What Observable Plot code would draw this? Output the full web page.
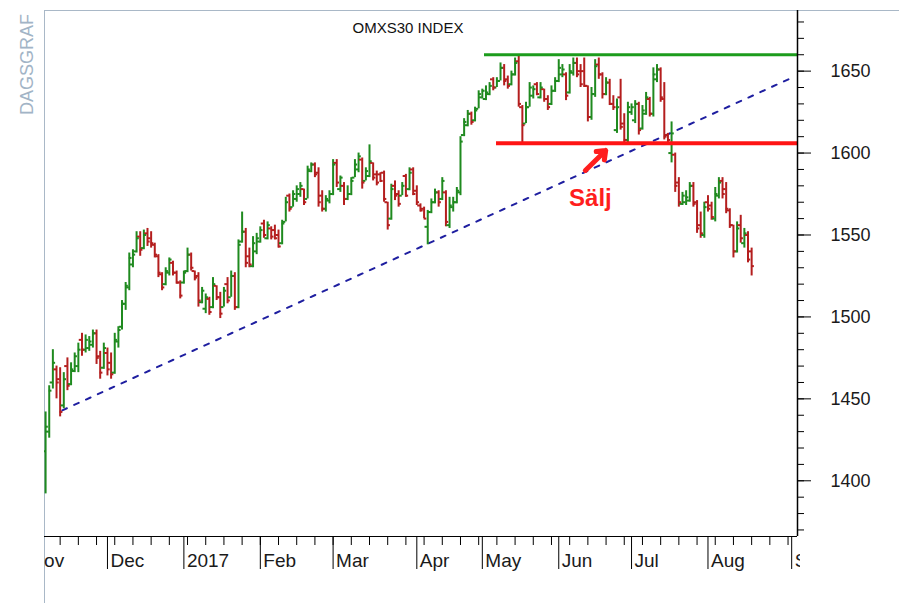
<!DOCTYPE html>
<html>
<head>
<meta charset="utf-8">
<script src="https://cdn.jsdelivr.net/npm/d3@7"></script>
<script src="https://cdn.jsdelivr.net/npm/@observablehq/plot@0.6"></script>
<style>
html,body{margin:0;padding:0;background:#fff;}
#wrap{position:relative;width:899px;height:603px;overflow:hidden;font-family:"Liberation Sans",Arial,sans-serif;}
#topline{position:absolute;left:44px;top:10px;width:855px;height:1px;background:#a9b8c7;}
#leftline{position:absolute;left:44px;top:10px;width:1px;height:593px;background:#a9b8c7;}
#side{position:absolute;left:18px;top:115px;transform-origin:0 0;transform:rotate(-90deg);font-size:18px;line-height:18px;color:#a2b4c6;white-space:nowrap;}
#chart{position:absolute;left:44px;top:0;}
</style>
</head>
<body>
<div id="wrap">
  <div id="leftline"></div>
  <div id="topline"></div>
  <div id="side">DAGSGRAF</div>
  <div id="chart"></div>
</div>
<script>
// ---- data: daily OHLC, trading-day index (0 = first trading day of Dec 2016) ----
const firstDay = -17;
const open = [
  1418,1430,1460,1468,1462,1446,1470,1459,1467,1470,
  1486,1480,1481,1483,1490,1476,1469,1478,1472,1466,
  1485,1494,1508,1518,1532,1540,1549,1542,1551,1548,
  1544,1537,1526,1520,1527,1533,1527,1521,1521,1528,
  1538,1528,1525,1509,1505,1511,1506,1519,1512,1506,
  1520,1512,1525,1506,1546,1552,1537,1531,1540,1546,
  1557,1548,1554,1553,1550,1545,1558,1574,1567,1572,
  1575,1578,1572,1589,1593,1588,1574,1566,1571,1575,
  1594,1578,1580,1572,1575,1585,1590,1596,1583,1586,
  1594,1587,1587,1588,1570,1560,1580,1575,1574,1586,
  1578,1590,1577,1568,1566,1555,1564,1570,1576,1572,
  1576,1556,1567,1570,1576,1611,1617,1624,1620,1627,
  1634,1633,1636,1645,1640,1644,1652,1645,1642,1648,
  1656,1628,1618,1628,1635,1642,1634,1639,1633,1630,
  1638,1644,1648,1648,1637,1649,1655,1650,1650,1641,
  1622,1636,1654,1648,1636,1643,1630,1614,1634,1618,
  1608,1625,1620,1630,1615,1624,1633,1624,1645,1651,
  1633,1611,1600,1599,1582,1569,1570,1571,1580,1570,
  1556,1550,1570,1568,1560,1574,1583,1578,1565,1556,
  1540,1556,1545,1550,1540
];
const high = [
  1442,1458,1480,1470,1469,1466,1475,1472,1478,1484,
  1490,1489,1488,1492,1492,1479,1484,1481,1478,1490,
  1494,1510,1521,1539,1541,1552,1552,1553,1554,1552,
  1545,1538,1527,1530,1536,1534,1528,1522,1528,1542,
  1539,1528,1527,1518,1514,1512,1524,1519,1515,1518,
  1524,1528,1527,1547,1564,1554,1542,1549,1551,1555,
  1559,1558,1555,1556,1553,1559,1573,1575,1577,1580,
  1582,1578,1592,1594,1594,1591,1577,1574,1577,1596,
  1596,1586,1582,1580,1585,1596,1600,1597,1591,1605,
  1594,1589,1588,1589,1570,1581,1583,1577,1582,1587,
  1591,1591,1580,1569,1567,1565,1572,1578,1577,1585,
  1577,1573,1573,1579,1610,1621,1626,1625,1628,1638,
  1639,1641,1643,1646,1646,1655,1654,1647,1650,1658,
  1660,1629,1631,1643,1641,1643,1643,1639,1635,1641,
  1646,1657,1654,1649,1654,1658,1658,1654,1658,1641,
  1640,1657,1658,1649,1646,1645,1635,1633,1645,1624,
  1631,1630,1632,1631,1629,1637,1634,1652,1654,1652,
  1643,1612,1619,1600,1585,1576,1577,1582,1582,1571,
  1564,1570,1574,1570,1579,1585,1585,1582,1566,1556,
  1558,1562,1554,1552,1542
];
const low = [
  1392,1426,1456,1450,1439,1444,1455,1458,1466,1466,
  1476,1478,1479,1481,1471,1462,1468,1464,1462,1465,
  1481,1492,1504,1516,1530,1539,1537,1541,1543,1542,
  1536,1524,1516,1519,1525,1525,1520,1511,1520,1527,
  1528,1522,1506,1508,1502,1501,1505,1510,1499,1506,
  1508,1512,1504,1505,1545,1530,1530,1530,1538,1545,
  1548,1547,1547,1547,1542,1544,1558,1564,1567,1570,
  1573,1568,1572,1588,1585,1567,1564,1564,1569,1574,
  1579,1576,1568,1571,1574,1585,1588,1578,1583,1585,
  1583,1580,1582,1570,1553,1559,1571,1567,1574,1573,
  1577,1574,1568,1564,1560,1544,1563,1569,1567,1571,
  1555,1554,1564,1569,1574,1610,1616,1617,1619,1627,
  1633,1632,1635,1638,1640,1644,1641,1639,1641,1647,
  1628,1606,1618,1628,1633,1635,1633,1631,1626,1629,
  1637,1643,1646,1632,1636,1647,1646,1640,1640,1619,
  1620,1634,1645,1633,1635,1629,1626,1612,1614,1605,
  1606,1623,1618,1611,1614,1623,1622,1622,1643,1631,
  1608,1606,1594,1576,1567,1568,1568,1570,1567,1551,
  1548,1548,1564,1559,1558,1572,1572,1563,1554,1536,
  1539,1545,1542,1533,1525
];
const close = [
  1433,1455,1472,1460,1442,1462,1458,1468,1476,1480,
  1480,1486,1485,1490,1475,1466,1481,1468,1465,1486,
  1492,1508,1519,1536,1538,1548,1541,1550,1546,1545,
  1538,1527,1518,1528,1535,1527,1521,1513,1527,1538,
  1530,1524,1510,1516,1512,1503,1520,1512,1502,1516,
  1510,1525,1506,1544,1552,1533,1532,1545,1548,1553,
  1550,1556,1549,1548,1543,1557,1570,1566,1575,1578,
  1580,1570,1590,1593,1587,1570,1566,1572,1575,1593,
  1582,1585,1572,1575,1583,1593,1598,1582,1589,1595,
  1585,1582,1583,1572,1556,1578,1574,1569,1580,1574,
  1588,1575,1570,1565,1560,1564,1570,1576,1570,1583,
  1558,1568,1570,1577,1607,1619,1624,1619,1626,1636,
  1638,1637,1641,1640,1644,1652,1644,1641,1648,1655,
  1630,1617,1628,1640,1639,1636,1640,1633,1628,1638,
  1644,1652,1651,1635,1650,1655,1648,1642,1641,1622,
  1636,1653,1648,1636,1643,1630,1628,1628,1616,1608,
  1628,1628,1630,1614,1626,1634,1624,1648,1651,1634,
  1610,1608,1612,1580,1570,1574,1573,1580,1569,1554,
  1551,1567,1566,1561,1575,1582,1575,1566,1556,1540,
  1554,1548,1551,1535,1531
];

// axis ticks / labels
const monthStarts = [-22, 0, 21, 42, 62, 85, 103, 124, 144, 165, 188];
const monthLabels = ["Nov", "Dec", "2017", "Feb", "Mar", "Apr", "May", "Jun", "Jul", "Aug", "Sep"];
const weekTicks = d3.range(-18, 190, 5);
const yMajor = [1400, 1450, 1500, 1550, 1600, 1650];
const yMinor = d3.range(1370, 1690, 10);
const xDomain = [-17.3, 189.6];
const yDomain = [1366, 1687];

// annotations
const title = "OMXS30 INDEX";
const resistance = [{value: 1660, from: 103.6}];
const support = [{value: 1606, from: 106.9}];
const trend = [{day: -12.4, value: 1443}, {day: 187.6, value: 1645.5}];
const signal = [{x1: 131.3, y1: 1589.4, x2: 136.9, y2: 1601.6}];
const signalLabel = [{day: 132.7, value: 1572.3, text: "Sälj"}];

const bars = open.map((o, k) => ({day: firstDay + k, open: o, high: high[k], low: low[k], close: close[k]}));
const GREEN = "#1f8a1f", RED = "#b41e1e";
const col = d => d.close >= d.open ? GREEN : RED;

const W = 855, MR = 102;
const chart = Plot.plot({
  width: W, height: 603,
  marginLeft: 0, marginRight: MR, marginTop: 10, marginBottom: 67,
  x: {type: "linear", domain: xDomain},
  y: {domain: yDomain},
  color: {type: "identity"},
  style: {fontFamily: "'Liberation Sans', Arial, sans-serif", background: "transparent", overflow: "hidden", color: "#1a1a1a"},
  marks: [
    Plot.line(trend, {x: "day", y: "value", stroke: "#1f1fa0", strokeWidth: 2, strokeDasharray: "5,8"}),
    Plot.ruleX(bars, {x: "day", y1: "low", y2: "high", stroke: col, strokeWidth: 2}),
    Plot.ruleY(bars, {y: "open", x1: d => d.day - 0.75, x2: "day", stroke: col, strokeWidth: 2}),
    Plot.ruleY(bars, {y: "close", x1: "day", x2: d => d.day + 0.75, stroke: col, strokeWidth: 2}),
    Plot.ruleY(resistance, {y: "value", x1: "from", x2: () => xDomain[1], stroke: "#1c9c1c", strokeWidth: 3}),
    Plot.ruleY(support, {y: "value", x1: "from", x2: () => xDomain[1], stroke: "#ff1414", strokeWidth: 4}),
    Plot.arrow(signal, {x1: "x1", y1: "y1", x2: "x2", y2: "y2", stroke: "#ff1e1e", strokeWidth: 5, headLength: 10, headAngle: 75}),
    Plot.text(signalLabel, {x: "day", y: "value", text: "text", fontSize: 24, fontWeight: "bold", fill: "#ff1e1e"}),
    Plot.text([title], {text: d => d, frameAnchor: "top", lineAnchor: "middle", dy: 18, dx: -13, fontSize: 15, fill: "#111"}),
    // axes
    Plot.ruleY([yDomain[0]], {stroke: "#000", strokeWidth: 1.2}),
    Plot.ruleX([xDomain[1]], {stroke: "#000", strokeWidth: 1.5}),
    Plot.axisX(weekTicks, {anchor: "bottom", tickSize: 9, tickFormat: () => "", stroke: "#000"}),
    Plot.axisX(monthStarts, {anchor: "bottom", tickSize: 33, tickFormat: () => "", stroke: "#000"}),
    Plot.text(monthStarts, {x: d => d, text: (d, i) => monthLabels[i], frameAnchor: "bottom", lineAnchor: "middle", textAnchor: "start", dx: 3, dy: 24, fontSize: 19, fill: "#1a1a1a"}),
    Plot.axisY(yMinor, {anchor: "right", tickSize: 6, tickFormat: () => "", stroke: "#000"}),
    Plot.axisY(yMajor, {anchor: "right", tickSize: 13, tickPadding: 20, fontSize: 18, tickFormat: d => String(d), stroke: "#000", fill: "#1a1a1a"})
  ]
});
document.getElementById("chart").appendChild(chart);

// clip month labels to the plot frame's horizontal extent
const dec = Array.from(chart.querySelectorAll("text")).find(t => t.textContent === "Dec");
if (dec) {
  const sel = d3.select(chart);
  sel.append("defs").append("clipPath").attr("id", "mclip")
    .append("rect").attr("x", 0).attr("y", 0).attr("width", W - MR + 3).attr("height", 603);
  const wrapG = sel.append("g").attr("clip-path", "url(#mclip)");
  wrapG.node().appendChild(dec.parentNode);
}
</script>
</body>
</html>
